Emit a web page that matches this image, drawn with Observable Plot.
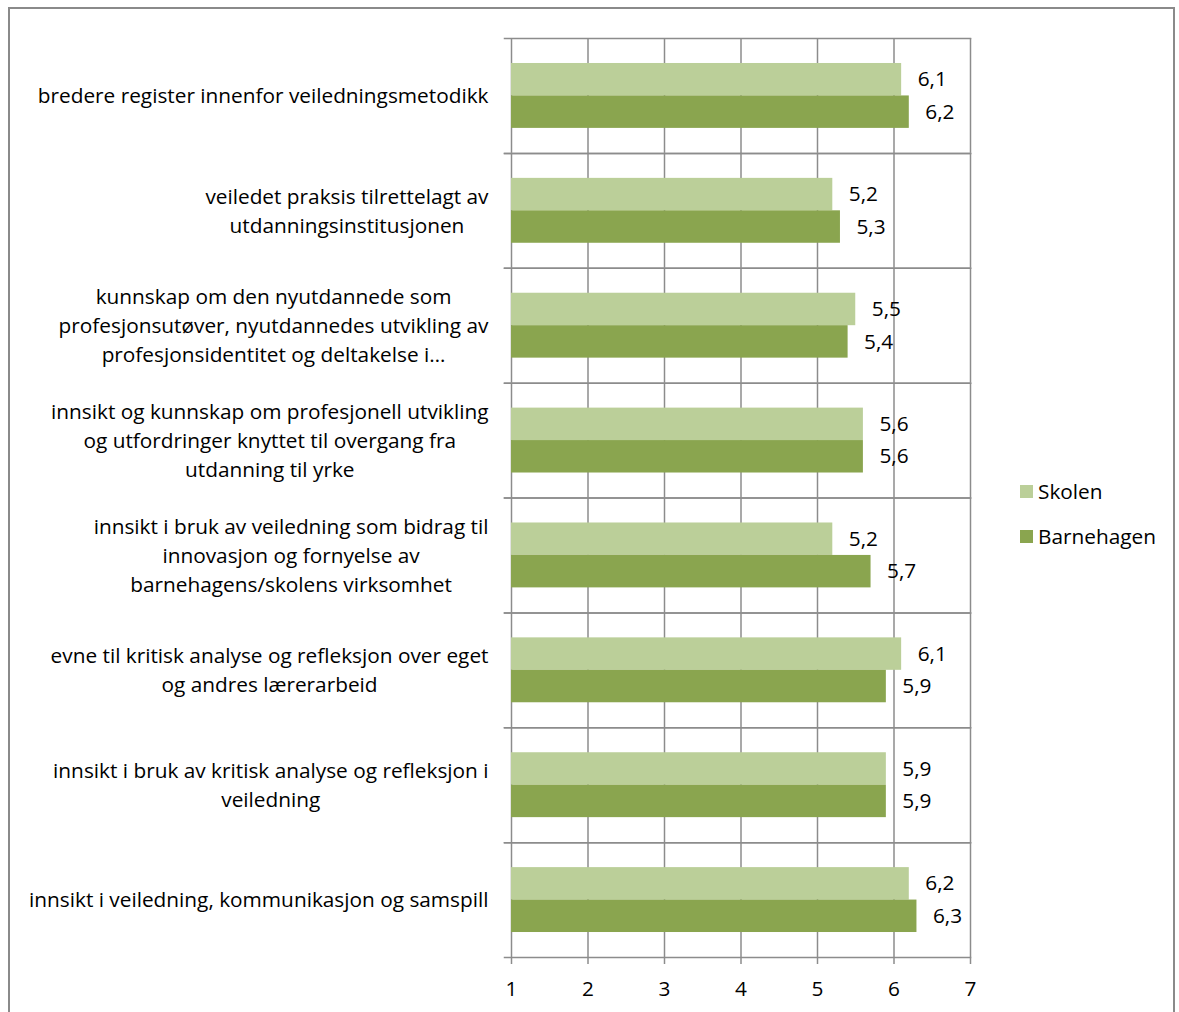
<!DOCTYPE html>
<html>
<head>
<meta charset="utf-8">
<script src="https://cdn.jsdelivr.net/npm/d3@7"></script>
<script src="https://cdn.jsdelivr.net/npm/@observablehq/plot@0.6"></script>
<style>
  html, body { margin: 0; padding: 0; background: #fff; }
  body { width: 1179px; height: 1012px; position: relative; overflow: hidden; font-family: "Open Sans", "DejaVu Sans", sans-serif; }
  #border { position: absolute; left: 8px; top: 7px; width: 1167px; height: 1020px; border: 2px solid #8a8a8a; box-sizing: border-box; pointer-events: none; }
  #chart { position: absolute; left: 0; top: 0; }
  #chart svg { display: block; }
  #legend { position: absolute; left: 1020px; top: 477px; font-size: 20.8px; color: #000; }
  #legend .item { display: flex; align-items: center; height: 28px; margin-bottom: 17px; }
  #legend .sw { width: 13px; height: 13px; margin-right: 5px; }
</style>
</head>
<body>
<div id="chart"></div>
<div id="legend"></div>
<div id="border"></div>
<script>
// Categories (top to bottom), with line breaks as they are set in the axis labels
const categories = [
  "bredere register innenfor veiledningsmetodikk",
  "veiledet praksis tilrettelagt av\nutdanningsinstitusjonen",
  "kunnskap om den nyutdannede som\nprofesjonsutøver, nyutdannedes utvikling av\nprofesjonsidentitet og deltakelse i…",
  "innsikt og kunnskap om profesjonell utvikling\nog utfordringer knyttet til overgang fra\nutdanning til yrke",
  "innsikt i bruk av veiledning som bidrag til\ninnovasjon og fornyelse av\nbarnehagens/skolens virksomhet",
  "evne til kritisk analyse og refleksjon over eget\nog andres lærerarbeid",
  "innsikt i bruk av kritisk analyse og refleksjon i\nveiledning",
  "innsikt i veiledning, kommunikasjon og samspill"
];
const series = ["Skolen", "Barnehagen"];
const skolen = [6.1, 5.2, 5.5, 5.6, 5.2, 6.1, 5.9, 6.2];
const barnehagen = [6.2, 5.3, 5.4, 5.6, 5.7, 5.9, 5.9, 6.3];
const xTicks = [1, 2, 3, 4, 5, 6, 7];
const colors = ["#bbcf99", "#8aa54f"];

const data = [];
categories.forEach((c, i) => {
  data.push({category: c, series: "Skolen", value: skolen[i]});
  data.push({category: c, series: "Barnehagen", value: barnehagen[i]});
});

const fontFamily = "'Open Sans', 'DejaVu Sans', sans-serif";
const fontSize = 20.8;
const gridColor = "#8c8c8c";
const fmt = v => d3.format(".1f")(v).replace(".", ",");

// Width of each multi-line label block, so its lines can be centred within the block
const ctx = document.createElement("canvas").getContext("2d");
ctx.font = `${fontSize}px ${fontFamily}`;
const blockWidth = c => d3.max(c.split("\n"), l => ctx.measureText(l).width);

const labelMarks = categories.map(c => Plot.text([c], {
  fy: d => d,
  text: d => d,
  frameAnchor: "left",
  textAnchor: "middle",
  lineAnchor: "middle",
  lineHeight: 29 / fontSize,
  dx: -(23 + blockWidth(c) / 2),
  dy: -2,
  fill: "#000"
}));

const chart = Plot.plot({
  width: 1179,
  height: 1012,
  marginLeft: 511,
  marginRight: 209,
  marginTop: 38,
  marginBottom: 55,
  style: {fontFamily, fontSize: `${fontSize}px`, color: "#000", background: "transparent"},
  x: {domain: [1, 7], label: null},
  fy: {domain: categories, padding: 0, round: false, axis: null, label: null},
  y: {domain: series, paddingInner: 0, paddingOuter: 0.77, round: false, axis: null, label: null},
  color: {domain: series, range: colors},
  marks: [
    Plot.gridX(xTicks, {stroke: gridColor, strokeOpacity: 1, strokeWidth: 1.5}),
    Plot.frame({anchor: "top", stroke: gridColor, strokeWidth: 1.5, insetLeft: -7}),
    Plot.frame({anchor: "bottom", stroke: gridColor, strokeWidth: 1.5, insetLeft: -7}),
    Plot.barX(data, {fy: "category", y: "series", x1: 1, x2: "value", fill: "series"}),
    Plot.text(data, {fy: "category", y: "series", x: "value", text: d => fmt(d.value), textAnchor: "start", dx: 16, fill: "#000"}),
    Plot.axisX({ticks: xTicks, tickFormat: d => String(d), label: null, tickSize: 7, tickPadding: 17, stroke: gridColor, strokeWidth: 1.5, fill: "#000", anchor: "bottom", facetAnchor: "bottom"}),
    ...labelMarks
  ]
});
document.getElementById("chart").appendChild(chart);

// Legend
const legend = document.getElementById("legend");
series.forEach((s, i) => {
  const item = document.createElement("div");
  item.className = "item";
  item.innerHTML = `<span class="sw" style="background:${colors[i]}"></span><span>${s}</span>`;
  legend.appendChild(item);
});
</script>
</body>
</html>
